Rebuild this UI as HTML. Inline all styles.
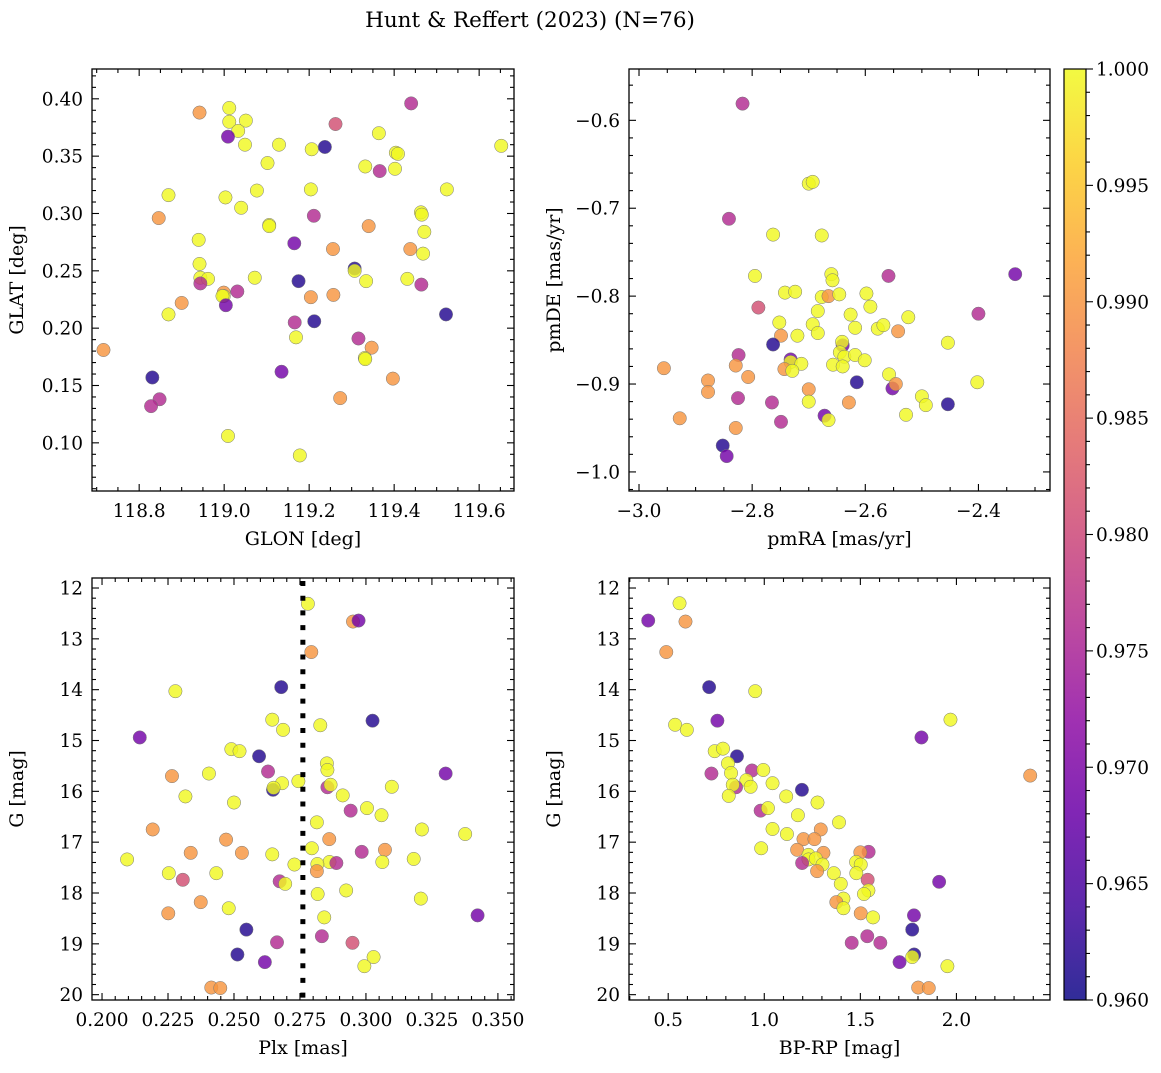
<!DOCTYPE html>
<html><head><meta charset="utf-8"><style>
body{margin:0;background:#fff}
svg text{font-family:"DejaVu Serif","Liberation Serif",serif;fill:#000}
</style></head><body>
<svg id="fig" width="1161" height="1068" viewBox="0 0 1161 1068" xmlns="http://www.w3.org/2000/svg">
<defs><linearGradient id="plasma" x1="0" y1="1" x2="0" y2="0">
<stop offset="0" stop-color="#0d0887"/><stop offset="0.1" stop-color="#41049d"/><stop offset="0.2" stop-color="#6a00a8"/><stop offset="0.3" stop-color="#8f0da4"/><stop offset="0.4" stop-color="#b12a90"/><stop offset="0.5" stop-color="#cc4778"/><stop offset="0.6" stop-color="#e16462"/><stop offset="0.7" stop-color="#f2844b"/><stop offset="0.8" stop-color="#fca636"/><stop offset="0.9" stop-color="#fcce25"/><stop offset="1" stop-color="#f0f921"/>
</linearGradient></defs>
<text x="530" y="27" font-size="21.5" text-anchor="middle">Hunt &amp; Reffert (2023) (N=76)</text>
</svg>
<script>
const Y=0.9999,O=0.990,P=0.981,M=0.976,U=0.969,D=0.9615;
// Panel 1: GLON, GLAT
const p1x=[118.942,119.012,119.012,119.051,119.033,119.009,119.049,119.262,119.237,119.129,119.206,119.364,119.440,119.652,119.404,119.409,119.102,119.332,119.366,119.402,118.869,119.077,119.204,119.524,119.003,119.040,118.846,119.106,119.106,119.211,119.463,119.465,119.471,118.940,119.165,119.256,119.340,119.438,119.468,118.942,119.307,119.307,119.072,118.944,118.962,118.944,119.334,119.431,119.175,119.464,118.999,118.999,118.996,119.031,118.900,119.004,119.204,119.257,118.869,119.166,119.212,119.522,119.316,119.169,119.347,119.331,119.332,118.716,119.135,118.831,119.397,118.848,118.828,119.273,119.009,119.178];
const p1y=[0.388,0.392,0.380,0.381,0.372,0.367,0.360,0.378,0.358,0.360,0.356,0.370,0.396,0.359,0.353,0.352,0.344,0.341,0.337,0.339,0.316,0.320,0.321,0.321,0.314,0.305,0.296,0.290,0.289,0.298,0.301,0.299,0.284,0.277,0.274,0.269,0.289,0.269,0.265,0.256,0.252,0.250,0.244,0.244,0.243,0.239,0.241,0.243,0.241,0.238,0.231,0.228,0.228,0.232,0.222,0.220,0.227,0.229,0.212,0.205,0.206,0.212,0.191,0.192,0.183,0.174,0.173,0.181,0.162,0.157,0.156,0.138,0.132,0.139,0.106,0.089];
const p1c=[O,Y,Y,Y,Y,U,Y,P,D,Y,Y,Y,M,Y,Y,Y,Y,Y,M,Y,Y,Y,Y,Y,Y,Y,O,Y,Y,M,Y,Y,Y,Y,U,O,O,O,Y,Y,D,Y,Y,Y,Y,M,Y,Y,D,M,O,Y,Y,M,O,U,O,O,Y,M,D,D,M,Y,O,Y,Y,O,U,D,O,M,M,O,Y,Y];
// Panel 2: pmRA, pmDE
const p2x=[-2.817,-2.841,-2.763,-2.677,-2.700,-2.693,-2.335,-2.559,-2.660,-2.658,-2.795,-2.742,-2.724,-2.677,-2.665,-2.646,-2.598,-2.789,-2.684,-2.626,-2.591,-2.524,-2.400,-2.752,-2.693,-2.684,-2.618,-2.578,-2.568,-2.542,-2.749,-2.720,-2.763,-2.640,-2.641,-2.645,-2.637,-2.454,-2.824,-2.732,-2.732,-2.713,-2.618,-2.601,-2.657,-2.640,-2.743,-2.729,-2.956,-2.829,-2.878,-2.878,-2.807,-2.558,-2.552,-2.546,-2.615,-2.402,-2.700,-2.700,-2.500,-2.493,-2.825,-2.765,-2.629,-2.454,-2.928,-2.672,-2.665,-2.528,-2.749,-2.829,-2.852,-2.845];
const p2y=[-0.581,-0.712,-0.730,-0.731,-0.672,-0.670,-0.775,-0.777,-0.775,-0.782,-0.777,-0.796,-0.795,-0.801,-0.800,-0.798,-0.797,-0.813,-0.817,-0.821,-0.812,-0.824,-0.820,-0.830,-0.832,-0.842,-0.836,-0.837,-0.833,-0.840,-0.845,-0.845,-0.855,-0.856,-0.852,-0.864,-0.869,-0.853,-0.867,-0.872,-0.875,-0.877,-0.867,-0.873,-0.878,-0.880,-0.883,-0.885,-0.882,-0.879,-0.896,-0.909,-0.892,-0.889,-0.905,-0.900,-0.898,-0.898,-0.906,-0.920,-0.914,-0.924,-0.916,-0.921,-0.921,-0.923,-0.939,-0.936,-0.941,-0.935,-0.943,-0.950,-0.970,-0.982];
const p2c=[M,M,Y,Y,Y,Y,U,M,Y,Y,Y,Y,Y,Y,O,Y,Y,P,Y,Y,Y,Y,M,Y,Y,Y,Y,Y,Y,O,O,Y,D,U,Y,Y,Y,Y,M,U,Y,Y,Y,Y,Y,Y,O,Y,O,O,O,O,O,Y,U,O,D,Y,O,Y,Y,Y,M,M,O,D,O,U,Y,Y,M,O,D,U];
// Panel 3: Plx, G
const p3x=[0.2780,0.2951,0.2972,0.2793,0.2278,0.2679,0.3025,0.2143,0.2645,0.2686,0.2827,0.2490,0.2521,0.2595,0.2852,0.2854,0.3302,0.2405,0.2265,0.2629,0.2682,0.2744,0.2648,0.2650,0.2854,0.2866,0.2912,0.3098,0.2316,0.2500,0.3004,0.2942,0.3059,0.2814,0.3212,0.2192,0.3376,0.2470,0.2861,0.3072,0.2795,0.2984,0.2336,0.2530,0.2645,0.2095,0.3181,0.2862,0.2888,0.2729,0.2816,0.2814,0.3062,0.2253,0.2433,0.2306,0.2673,0.2694,0.2925,0.2817,0.3208,0.2374,0.2480,0.2251,0.2842,0.3423,0.2547,0.2833,0.2663,0.2949,0.2513,0.3029,0.2617,0.2994,0.2414,0.2448];
const p3y=[12.31,12.66,12.64,13.26,14.03,13.95,14.61,14.94,14.59,14.79,14.70,15.17,15.21,15.31,15.45,15.58,15.65,15.65,15.70,15.61,15.84,15.80,15.97,15.93,15.92,15.87,16.08,15.91,16.10,16.22,16.33,16.38,16.47,16.61,16.75,16.75,16.84,16.95,16.94,17.15,17.12,17.19,17.21,17.21,17.24,17.34,17.33,17.39,17.41,17.44,17.43,17.57,17.39,17.61,17.61,17.74,17.77,17.82,17.95,18.02,18.11,18.18,18.30,18.40,18.48,18.44,18.72,18.85,18.97,18.98,19.21,19.26,19.36,19.44,19.86,19.87];
const p3c=[Y,O,U,O,Y,D,D,U,Y,Y,Y,Y,Y,D,Y,Y,U,Y,O,M,Y,Y,D,Y,M,Y,Y,Y,Y,Y,Y,M,Y,Y,Y,O,Y,O,O,O,Y,M,O,O,Y,Y,Y,Y,M,Y,Y,O,Y,Y,Y,P,M,Y,Y,Y,Y,O,Y,O,Y,U,D,M,M,P,D,Y,U,Y,O,O];
// Panel 4: BP-RP, G
const p4x=[0.396,0.559,0.590,0.490,0.713,0.953,0.756,0.536,0.597,1.969,1.818,0.742,0.785,0.858,0.811,0.936,0.995,2.384,0.725,0.827,0.907,0.853,0.836,0.929,1.043,1.196,0.815,1.114,1.277,0.981,1.019,1.175,1.389,1.043,1.294,1.118,1.204,1.261,0.984,1.171,1.308,1.543,1.500,1.230,1.230,1.268,1.197,1.303,1.478,1.502,1.275,1.362,1.479,1.910,1.398,1.538,1.542,1.519,1.412,1.375,1.412,1.502,1.566,1.779,1.536,1.455,1.604,1.770,1.780,1.770,1.704,1.953,1.801,1.856];
const p4y=[12.64,12.30,12.66,13.26,13.95,14.03,14.61,14.69,14.79,14.59,14.94,15.21,15.16,15.31,15.45,15.59,15.58,15.69,15.65,15.64,15.78,15.92,15.87,15.91,15.84,15.97,16.09,16.10,16.22,16.38,16.33,16.47,16.61,16.74,16.75,16.84,16.94,16.94,17.12,17.15,17.21,17.19,17.20,17.25,17.34,17.32,17.41,17.44,17.39,17.44,17.57,17.61,17.61,17.78,17.82,17.74,17.95,18.02,18.11,18.18,18.30,18.40,18.48,18.44,18.85,18.98,18.98,18.72,19.21,19.26,19.36,19.44,19.86,19.87];
const p4c=[U,Y,O,O,D,Y,U,Y,Y,Y,U,Y,Y,D,Y,M,Y,O,M,Y,Y,M,Y,Y,Y,D,Y,Y,Y,M,Y,Y,Y,Y,O,Y,O,O,Y,O,O,M,O,Y,Y,Y,M,Y,Y,Y,O,Y,Y,U,Y,P,Y,Y,Y,O,Y,O,Y,U,M,M,M,D,D,Y,U,Y,O,O];
const plxCut=0.2761;
const cbTicks=[0.960,0.965,0.970,0.975,0.980,0.985,0.990,0.995,1.000];

const svg=document.getElementById('fig');
const NS='http://www.w3.org/2000/svg';
function mk(tag,a,parent){const e=document.createElementNS(NS,tag);for(const k in a)e.setAttribute(k,a[k]);(parent||svg).appendChild(e);return e;}
const stops=[[13,8,135],[65,4,157],[106,0,168],[143,13,164],[177,42,144],[204,71,120],[225,100,98],[242,132,75],[252,166,54],[252,206,37],[240,249,33]];
function plasma(v){let t=(v-0.96)/0.04;t=Math.max(0,Math.min(1,t))*10;const i=Math.min(9,Math.floor(t)),f=t-i;const a=stops[i],b=stops[i+1];return 'rgb('+a.map((c,k)=>Math.round(c+(b[k]-c)*f)).join(',')+')';}
function fmt(v,d){const s=Math.abs(v).toFixed(d);return (v<-1e-9?'\u2212':'')+s;}

function panel(name,b,xd,yd,inv,xs,ys,cs,xt,yt,xl,yl){
  const g=mk('g',{});
  
  
  const sx=v=>b.x0+(v-xd[0])/(xd[1]-xd[0])*(b.x1-b.x0);
  const sy=inv?(v=>b.y0+(v-yd[0])/(yd[1]-yd[0])*(b.y1-b.y0)):(v=>b.y1-(v-yd[0])/(yd[1]-yd[0])*(b.y1-b.y0));
  const pts=mk('g',{},g);
  
  
  for(let i=0;i<xs.length;i++){
    const c=mk('circle',{cx:sx(xs[i]),cy:sy(ys[i]),r:6.7,fill:plasma(cs[i]),'fill-opacity':0.82,stroke:'#777','stroke-width':0.5},pts);
    
    
  }
  function ticks(axis,t){
    const [st,en,maj,nmin,dec]=t;const step=maj/nmin;
    const n0=Math.ceil((axis=='x'?xd[0]:yd[0])/step-1e-6),n1=Math.floor((axis=='x'?xd[1]:yd[1])/step+1e-6);
    for(let n=n0;n<=n1;n++){
      const v=n*step;const isMaj=(n%nmin==0);const L=isMaj?7:4;
      if(axis=='x'){const x=sx(v);
        mk('line',{x1:x,x2:x,y1:b.y1,y2:b.y1-L,stroke:'#000','stroke-width':1.1},g);
        mk('line',{x1:x,x2:x,y1:b.y0,y2:b.y0+L,stroke:'#000','stroke-width':1.1},g);
        if(isMaj&&v>=st-1e-9&&v<=en+1e-9){const tx=mk('text',{x:x,y:b.y1+26,'font-size':18.5,'text-anchor':'middle'},g);tx.textContent=fmt(v,dec);
          }
      }else{const y=sy(v);
        mk('line',{x1:b.x0,x2:b.x0+L,y1:y,y2:y,stroke:'#000','stroke-width':1.1},g);
        mk('line',{x1:b.x1,x2:b.x1-L,y1:y,y2:y,stroke:'#000','stroke-width':1.1},g);
        if(isMaj&&v>=st-1e-9&&v<=en+1e-9){const tx=mk('text',{x:b.x0-9,y:y+6.5,'font-size':18.5,'text-anchor':'end'},g);tx.textContent=fmt(v,dec);
          }
      }
    }
  }
  ticks('x',xt);ticks('y',yt);
  const fr=mk('rect',{x:b.x0,y:b.y0,width:b.x1-b.x0,height:b.y1-b.y0,fill:'none',stroke:'#000','stroke-width':1.3},g);
  
  const xlab=mk('text',{x:(b.x0+b.x1)/2,y:b.y1+54,'font-size':19,'text-anchor':'middle'},g);xlab.textContent=xl;
  
  const cy=(b.y0+b.y1)/2,cx=b.x0-75+6;
  const ylab=mk('text',{x:cx,y:cy,'font-size':19,'text-anchor':'middle',transform:'rotate(-90 '+cx+' '+cy+')'},g);ylab.textContent=yl;
  
  return {sx,sy,g};
}
panel('glon-glat-panel',{x0:92,x1:514,y0:69,y1:491},[118.689,119.682],[0.058,0.426],false,p1x,p1y,p1c,[118.8,119.6,0.2,4,1],[0.10,0.40,0.05,5,2],'GLON [deg]','GLAT [deg]');
panel('proper-motion-panel',{x0:629,x1:1050,y0:69,y1:491},[-3.0177,-2.2735],[-1.0217,-0.5416],false,p2x,p2y,p2c,[-3.0,-2.4,0.2,4,1],[-1.0,-0.6,0.1,5,1],'pmRA [mas/yr]','pmDE [mas/yr]');
const a3=panel('parallax-panel',{x0:92,x1:514,y0:578,y1:1000},[0.1962,0.3561],[11.803,20.105],true,p3x,p3y,p3c,[0.2,0.35,0.025,5,3],[12,20,1,5,0],'Plx [mas]','G [mag]');
panel('cmd-panel',{x0:629,x1:1050,y0:578,y1:1000},[0.296,2.487],[11.803,20.105],true,p4x,p4y,p4c,[0.5,2.0,0.5,5,1],[12,20,1,5,0],'BP-RP [mag]','G [mag]');
const cl=mk('line',{x1:a3.sx(plxCut),x2:a3.sx(plxCut),y1:581,y2:999,stroke:'#000','stroke-width':5,'stroke-dasharray':'5,9.7'},a3.g);

const cb=mk('g',{});


mk('rect',{x:1064,y:69,width:22,height:931,fill:'url(#plasma)','fill-opacity':0.85,stroke:'#000','stroke-width':1.2},cb);
const cy0=69,cy1=1000,cs=v=>cy1-(v-0.96)/0.04*(cy1-cy0);
for(let n=960;n<=1000;n++){const v=n/1000,y=cs(v),maj=(n%5==0);
  mk('line',{x1:1086,x2:1086+(maj?7:4),y1:y,y2:y,stroke:'#000','stroke-width':1.1},cb);}
cbTicks.forEach(v=>{const t=mk('text',{x:1096,y:cs(v)+6.5,'font-size':18.5},cb);t.textContent=v.toFixed(3);
  });
</script>
</body></html>
